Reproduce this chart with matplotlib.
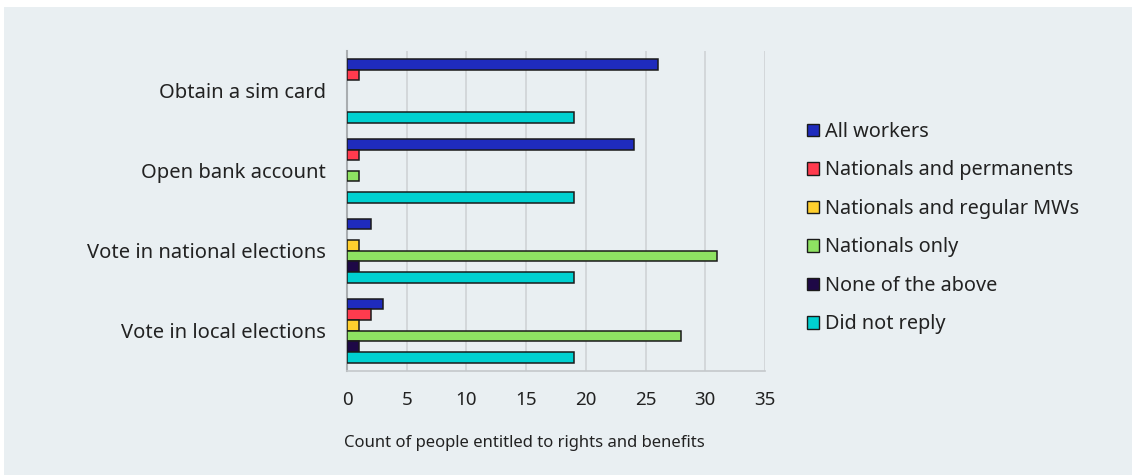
import matplotlib
matplotlib.use("Agg")
import matplotlib.pyplot as plt
import numpy as np
from matplotlib.patches import Rectangle, Patch

plt.rcParams['font.family'] = ['Noto Sans', 'DejaVu Sans']

categories = ["Obtain a sim card", "Open bank account",
              "Vote in national elections", "Vote in local elections"]
series_names = ["All workers", "Nationals and permanents", "Nationals and regular MWs",
                "Nationals only", "None of the above", "Did not reply"]
all_workers = [26, 24, 2, 3]
nationals_permanents = [1, 1, 0, 2]
nationals_regular = [0, 0, 1, 1]
nationals_only = [0, 1, 31, 28]
none_of_above = [0, 0, 1, 1]
did_not_reply = [19, 19, 19, 19]
series_values = [all_workers, nationals_permanents, nationals_regular,
                 nationals_only, none_of_above, did_not_reply]
colors = ["#1f2bbd", "#ff3b4e", "#ffcf2e", "#8ee262", "#1e0846", "#00d0d0"]
x_ticks = [0, 5, 10, 15, 20, 25, 30, 35]

bg = "#e9eff2"
text_c = "#222222"

fig = plt.figure(figsize=(11.32, 4.75), dpi=100)
fig.patch.set_facecolor("white")
fig.add_artist(Rectangle((4 / 1132, 0), 1, 1 - 7 / 475, transform=fig.transFigure,
                         facecolor=bg, edgecolor="none", zorder=-10))

ax = fig.add_axes([347 / 1132, 1 - 370.5 / 475, 418 / 1132, (370.5 - 51) / 475])
ax.set_facecolor(bg)

n_series = len(series_values)
group = 0.8
slot = group / n_series
y_base = np.arange(len(categories))
for i, (vals, col) in enumerate(zip(series_values, colors)):
    offs = -group / 2 + slot * (i + 0.5)
    vals = np.asarray(vals, dtype=float)
    keep = vals > 0  # empty categories leave no outline at zero
    ax.barh(y_base[keep] + offs, vals[keep], height=slot, color=col,
            edgecolor="#1a1a1a", linewidth=1.1, zorder=3)

ax.set_ylim(len(categories) - 0.5, -0.5)
ax.set_xlim(0, 35)
ax.set_xticks(x_ticks)
ax.set_yticks(y_base)
ax.set_yticklabels(categories, fontsize=14.5, color=text_c)
ax.tick_params(axis="y", length=0, pad=15)
ax.tick_params(axis="x", length=0, pad=15, labelsize=13.5, labelcolor=text_c)
ax.grid(axis="x", color="#cfd3d6", linewidth=1.2, zorder=0)
for s in ["top", "right"]:
    ax.spines[s].set_visible(False)
ax.spines["left"].set_color("#a9adb0")
ax.spines["left"].set_linewidth(1.5)
ax.spines["bottom"].set_color("#c4c8cb")
ax.spines["bottom"].set_linewidth(1.2)

fig.text(344 / 1132, 1 - 443 / 475, "Count of people entitled to rights and benefits",
         fontsize=12, color=text_c, ha="left", va="center")

handles = [Patch(facecolor=c, edgecolor="#1a1a1a", linewidth=1.0) for c in colors]
fig.legend(handles, series_names, loc="upper left",
           bbox_to_anchor=(807 / 1132, 1 - 122 / 475), frameon=False,
           fontsize=14.3, labelcolor=text_c, handlelength=0.6, handleheight=0.6,
           handletextpad=0.3, labelspacing=0.93, borderaxespad=0, borderpad=0)

fig.savefig("out.png", dpi=100, facecolor=fig.get_facecolor())
